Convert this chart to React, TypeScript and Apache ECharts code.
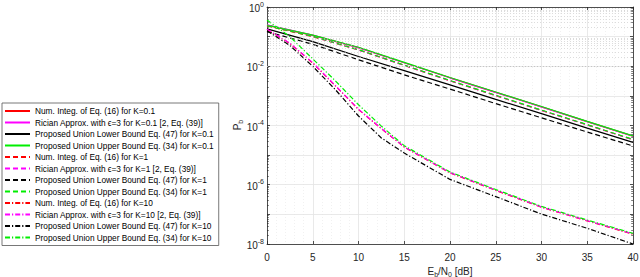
import React, { useEffect, useRef } from "react";
import * as echarts from "echarts";

// Eb/N0 grid (dB)
const snrA = [0, 5, 10, 15, 20, 25, 30, 35, 40];
const snrB = [0, 2.5, 5, 7.5, 10, 12.5, 15, 20, 25, 30, 35, 40];

// log10(Pb) values
const num01 = [-0.62, -0.96, -1.37, -1.88, -2.39, -2.88, -3.37, -3.87, -4.36];
const rice01 = [-0.6, -0.95, -1.37, -1.88, -2.39, -2.88, -3.37, -3.87, -4.36];
const lb01 = [-0.74, -1.17, -1.67, -2.15, -2.63, -3.12, -3.6, -4.09, -4.57];
const ub01 = [-0.61, -0.95, -1.36, -1.87, -2.38, -2.87, -3.36, -3.86, -4.35];

const num1 = [-0.64, -1.0, -1.45, -1.97, -2.49, -2.99, -3.49, -3.98, -4.48];
const rice1 = [-0.62, -0.99, -1.45, -1.97, -2.49, -2.99, -3.49, -3.98, -4.48];
const lb1 = [-0.83, -1.26, -1.78, -2.29, -2.77, -3.26, -3.74, -4.22, -4.69];
const ub1 = [-0.63, -0.99, -1.44, -1.96, -2.48, -2.98, -3.48, -3.97, -4.47];

const num10 = [-0.76, -1.23, -1.89, -2.67, -3.46, -4.11, -4.73, -5.6, -6.19, -6.76, -7.22, -7.67];
const rice10 = [-0.75, -1.22, -1.88, -2.66, -3.45, -4.1, -4.72, -5.59, -6.18, -6.75, -7.21, -7.66];
const lb10 = [-0.8, -1.3, -2.0, -2.8, -3.68, -4.42, -4.93, -5.82, -6.4, -6.99, -7.47, -8.0];
const ub10 = [-0.44, -1.0, -1.75, -2.5, -3.3, -4.02, -4.68, -5.57, -6.16, -6.73, -7.19, -7.64];

const names = [
  "Num. Integ. of Eq. (16) for K=0.1",
  "Rician Approx. with \u03f5=3 for K=0.1 [2, Eq. (39)]",
  "Proposed Union Lower Bound Eq. (47) for K=0.1",
  "Proposed Union Upper Bound Eq. (34) for K=0.1",
  "Num. Integ. of Eq. (16) for K=1",
  "Rician Approx. with \u03f5=3 for K=1 [2, Eq. (39)]",
  "Proposed Union Lower Bound Eq. (47) for K=1",
  "Proposed Union Upper Bound Eq. (34) for K=1",
  "Num. Integ. of Eq. (16) for K=10",
  "Rician Approx. with \u03f5=3 for K=10 [2, Eq. (39)]",
  "Proposed Union Lower Bound Eq. (47) for K=10",
  "Proposed Union Upper Bound Eq. (34) for K=10",
];

const yMinExp = -8;
const yMaxExp = 0;
const minorMult = [2, 3, 4, 5, 6, 7, 8, 9];

const FONT = "'Liberation Sans', Arial, Helvetica, sans-serif";

export default function App() {
  const ref = useRef<HTMLDivElement>(null);
  useEffect(() => {
    if (!ref.current) return;
    const chart = echarts.init(ref.current, undefined, { renderer: "svg" });

    const colors = ["#ff0000", "#ff00ff", "#000000", "#00ee00"];
    const dashes: any[] = ["solid", [5, 3], [5, 2, 1.2, 2]];
    const groups = [
      { x: snrA, ys: [num01, rice01, lb01, ub01] },
      { x: snrA, ys: [num1, rice1, lb1, ub1] },
      { x: snrB, ys: [num10, rice10, lb10, ub10] },
    ];
    const lineSeries: any[] = [];
    groups.forEach((g, gi) => {
      g.ys.forEach((arr, ci) => {
        lineSeries.push({
          name: names[gi * 4 + ci],
          type: "line",
          symbol: "none",
          showSymbol: false,
          z: 3,
          color: colors[ci],
          data: g.x.map((x, i) => [x, Math.pow(10, arr[i])]),
          lineStyle: { color: colors[ci], width: 1.2, type: dashes[gi] },
        });
      });
    });

    const minorVals: number[] = [];
    for (let e = yMinExp; e < yMaxExp; e++) {
      minorMult.forEach((m) => minorVals.push(m * Math.pow(10, e)));
    }

    const gridSeries = {
      type: "line",
      data: [],
      silent: true,
      z: 1,
      markLine: {
        silent: true,
        symbol: ["none", "none"],
        label: { show: false },
        animation: false,
        lineStyle: { type: [1, 2], color: "#c4c4c4", width: 0.6 },
        data: minorVals.map((v) => ({ yAxis: v })),
      },
    };
    const tickSeries = {
      type: "line",
      data: [],
      silent: true,
      z: 4,
      markLine: {
        silent: true,
        symbol: ["none", "none"],
        label: { show: false },
        animation: false,
        lineStyle: { type: "solid", color: "#262626", width: 0.6 },
        data: [
          ...minorVals.map((v) => [{ coord: [0, v] }, { coord: [0.2, v] }]),
          ...minorVals.map((v) => [{ coord: [39.8, v] }, { coord: [40, v] }]),
        ],
      },
    };

    const supRich = {
      b: { fontSize: 10, lineHeight: 13, verticalAlign: "bottom", color: "#262626", fontFamily: FONT },
      s: { fontSize: 7, verticalAlign: "top", color: "#262626", fontFamily: FONT },
    };
    const subRich = {
      a: { fontSize: 10, lineHeight: 11, verticalAlign: "top", color: "#262626", fontFamily: FONT },
      sub: { fontSize: 7, verticalAlign: "bottom", color: "#262626", fontFamily: FONT },
    };

    const axisLineStyle = { color: "#262626", width: 0.8 };

    chart.setOption({
      animation: false,
      textStyle: { fontFamily: FONT },
      grid: { left: 267, right: 7, top: 7, bottom: 33, containLabel: false, outerBoundsMode: "none" },
      graphic: [
        {
          type: "text",
          x: 238,
          y: 125,
          rotation: Math.PI / 2,
          z: 10,
          style: {
            text: "{a|P}{sub|b}",
            rich: subRich,
            align: "center",
            verticalAlign: "middle",
            fill: "#262626",
          },
        },
      ],
      legend: {
        orient: "vertical",
        left: 2,
        top: 103,
        data: names,
        backgroundColor: "#ffffff",
        borderColor: "#555555",
        borderWidth: 0.8,
        padding: [4, 5, 4, 2],
        itemWidth: 25,
        itemHeight: 8,
        itemGap: 3.5,
        selectedMode: false,
        itemStyle: { opacity: 0, borderWidth: 0 },
        textStyle: { fontSize: 8.3, lineHeight: 8, color: "#000000", fontFamily: FONT },
      },
      xAxis: [
        {
          type: "value",
          min: 0,
          max: 40,
          interval: 5,
          name: "{a|E}{sub|b}{a|/N}{sub|0}{a| [dB]}",
          nameLocation: "middle",
          nameGap: 17,
          nameTextStyle: { rich: subRich },
          axisLine: { show: true, onZero: false, lineStyle: axisLineStyle },
          axisTick: { show: true, inside: true, length: 3, lineStyle: axisLineStyle },
          axisLabel: { fontSize: 10, color: "#262626", margin: 8, fontFamily: FONT },
          splitLine: { show: true, lineStyle: { color: "#e3e3e3", width: 0.8 } },
          minorTick: { show: false, splitNumber: 5 },
          minorSplitLine: { show: true, lineStyle: { color: "#e2e2e2", width: 0.5, type: [1, 2] } },
        },
        {
          type: "value",
          position: "top",
          min: 0,
          max: 40,
          interval: 5,
          axisLine: { show: true, onZero: false, lineStyle: axisLineStyle },
          axisTick: { show: true, inside: true, length: 3, lineStyle: axisLineStyle },
          axisLabel: { show: false },
          splitLine: { show: false },
        },
      ],
      yAxis: [
        {
          type: "log",
          logBase: 10,
          min: Math.pow(10, yMinExp),
          max: Math.pow(10, yMaxExp),
          splitNumber: 8,
          axisLine: { show: true, onZero: false, lineStyle: axisLineStyle },
          axisTick: { show: true, inside: true, length: 3, lineStyle: axisLineStyle },
          axisLabel: {
            margin: 3,
            rich: supRich,
            formatter: (v: number) => {
              const e = Math.round(Math.log10(v));
              if (e % 2 !== 0) return "";
              return `{b|10}{s|${e}}`;
            },
          },
          splitLine: { show: true, lineStyle: { color: "#e3e3e3", width: 0.8 } },
        },
        {
          type: "log",
          logBase: 10,
          position: "right",
          min: Math.pow(10, yMinExp),
          max: Math.pow(10, yMaxExp),
          splitNumber: 8,
          axisLine: { show: true, onZero: false, lineStyle: axisLineStyle },
          axisTick: { show: true, inside: true, length: 3, lineStyle: axisLineStyle },
          axisLabel: { show: false },
          splitLine: { show: false },
        },
      ],
      series: [gridSeries, tickSeries, ...lineSeries],
    });

    return () => chart.dispose();
  }, []);

  return <div ref={ref} style={{ width: 640, height: 277, position: "absolute", left: 0, top: 0 }} />;
}
